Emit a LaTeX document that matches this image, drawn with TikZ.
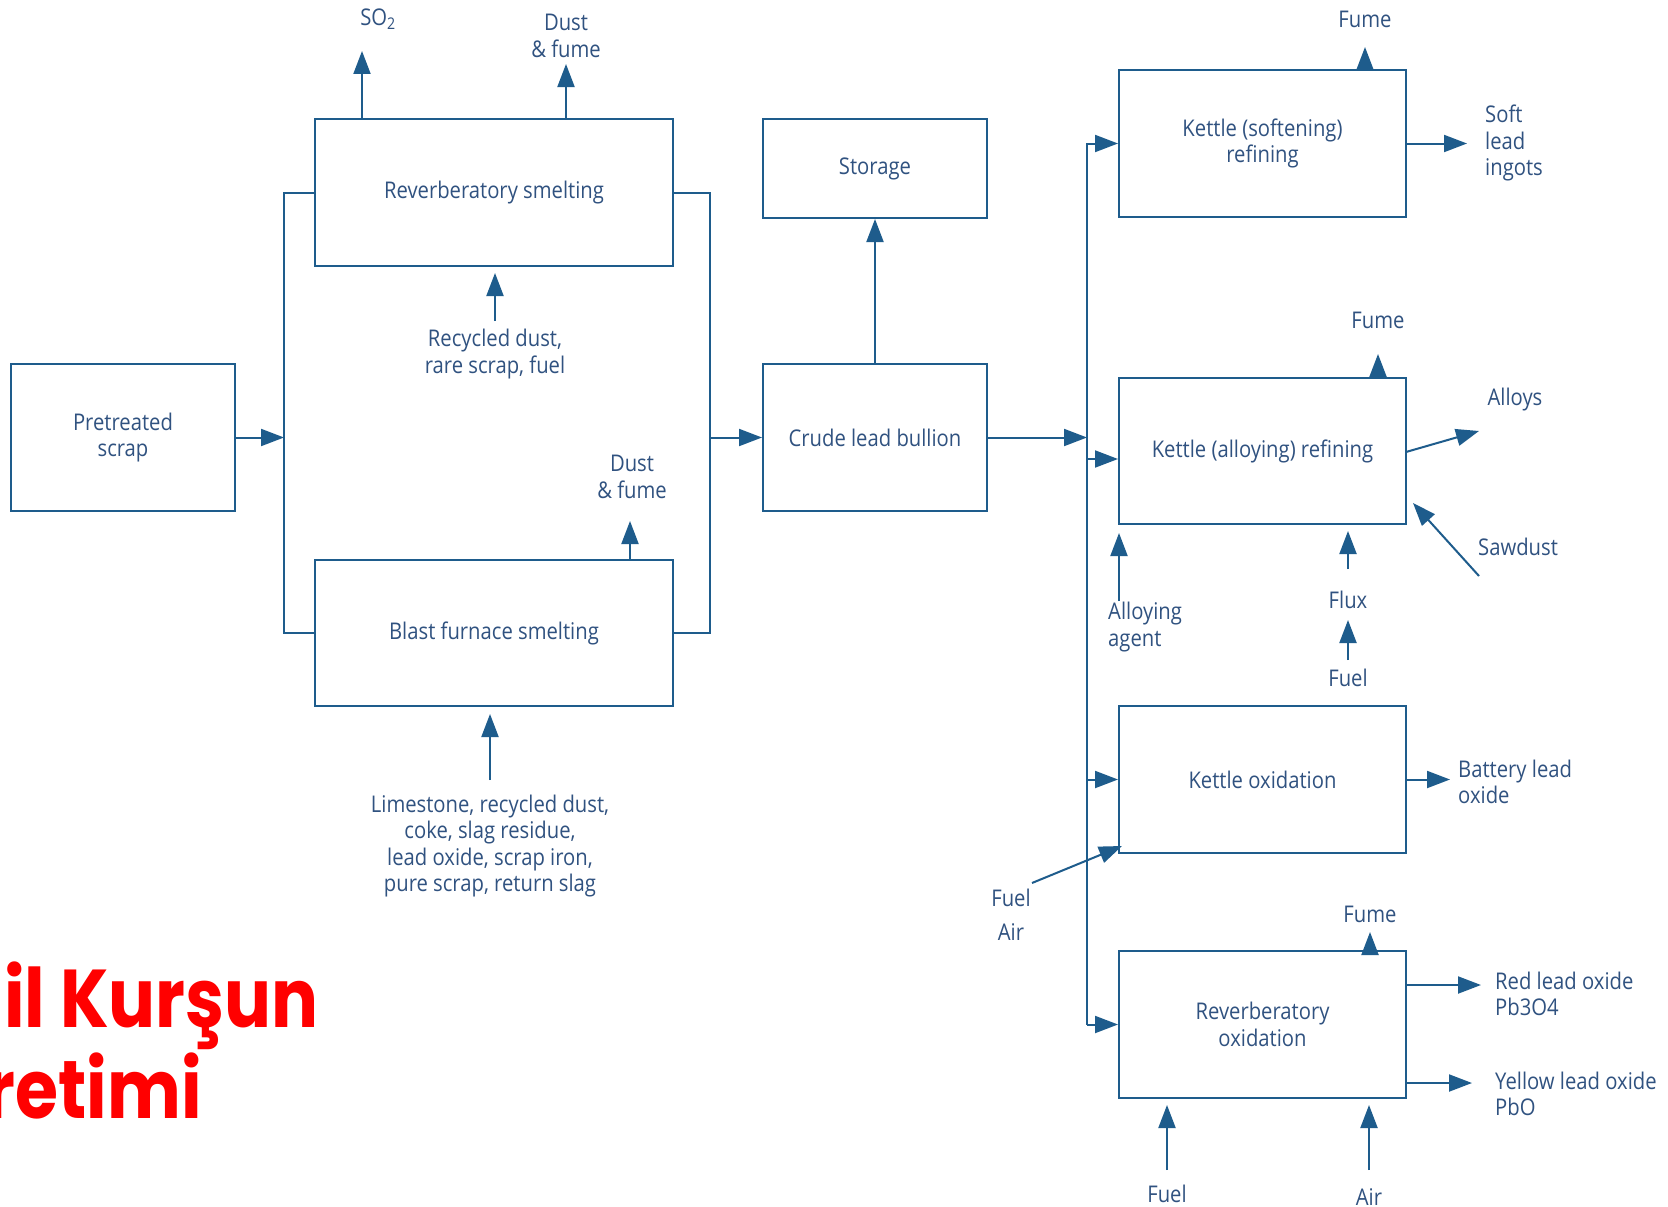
\documentclass[tikz,border=0pt]{standalone}
\usepackage{fontspec}
\usetikzlibrary{arrows.meta}
\newfontfamily\diag{Open Sans}[FakeStretch=0.88]
\newfontfamily\redfont{Poppins}[BoldFont=* Bold,FakeStretch=0.85]
\definecolor{ln}{RGB}{30,92,140}
\definecolor{tx}{RGB}{48,82,128}
\definecolor{rd}{RGB}{255,0,0}
\begin{document}
\begin{tikzpicture}[x=1pt,y=-1pt,
  box/.style={draw=ln,line width=2pt,inner sep=0pt,text=tx,align=center,font=\diag\fontsize{23}{26.6}\selectfont},
  lbl/.style={text=tx,inner sep=0pt,align=center,font=\diag\fontsize{23}{26.6}\selectfont},
  lbll/.style={lbl,align=left},
  arr/.style={draw=ln,line width=2pt,-{Triangle[length=23pt,width=17pt]}},
  ln/.style={draw=ln,line width=2pt}]
\clip (0,0) rectangle (1668,1207);
\fill[white] (0,0) rectangle (1668,1207);
% boxes
\node[box,minimum width=224pt,minimum height=147pt] (pre) at (123,437.5) {Pretreated\\scrap};
\node[box,minimum width=358pt,minimum height=147pt] (rs) at (494,192.5) {Reverberatory smelting};
\node[box,minimum width=358pt,minimum height=146pt] (bf) at (494,633) {Blast furnace smelting};
\node[box,minimum width=224pt,minimum height=99pt] (st) at (875,168.5) {Storage};
\node[box,minimum width=224pt,minimum height=147pt] (cl) at (875,437.5) {Crude lead bullion};
\node[box,minimum width=287pt,minimum height=147pt] (ks) at (1262.5,143.5) {Kettle (softening)\\refining};
\node[box,minimum width=287pt,minimum height=146pt] (ka) at (1262.5,451) {Kettle (alloying) refining};
\node[box,minimum width=287pt,minimum height=147pt] (ko) at (1262.5,779.5) {Kettle oxidation};
\node[box,minimum width=287pt,minimum height=147pt] (ro) at (1262.5,1024.5) {Reverberatory\\oxidation};
% labels
\node[lbl] (so2) at (378,19) {SO\textsubscript{2}};
\node[lbl] (df1) at (566,36) {Dust\\\& fume};
\node[lbl] (rec) at (495,354) {Recycled dust,\\rare scrap, fuel};
\node[lbl] (df2) at (632,477) {Dust\\\& fume};
\node[lbl] (lim) at (490,846) {Limestone, recycled dust,\\coke, slag residue,\\lead oxide, scrap iron,\\pure scrap, return slag};
\node[lbl] (fu1) at (1365,19) {Fume};
\node[lbll,anchor=west] (sli) at (1485,143) {Soft\\lead\\ingots};
\node[lbl] (fu2) at (1378,320) {Fume};
\node[lbl] (all) at (1515,400) {Alloys};
\node[lbl] (saw) at (1518,547) {Sawdust};
\node[lbll,anchor=west] (aga) at (1108,627) {Alloying\\agent};
\node[lbl] (flx) at (1348,600) {Flux};
\node[lbl] (fl1) at (1348,678) {Fuel};
\node[lbll,anchor=west] (bat) at (1458,782) {Battery lead\\oxide};
\node[lbl] (fl2) at (1011,898) {Fuel};
\node[lbl] (air1) at (1011,932) {Air};
\node[lbl] (fu3) at (1370,914) {Fume};
\node[lbll,anchor=west] (red) at (1495,994) {Red lead oxide\\Pb3O4};
\node[lbll,anchor=west] (yel) at (1495,1094) {Yellow lead oxide\\PbO};
\node[lbl] (fl3) at (1167,1194) {Fuel};
\node[lbl] (air2) at (1369,1197) {Air};
% coordinates
\coordinate (lb) at (284,437.5);
\coordinate (rb) at (710,437.5);
\coordinate (bb) at (1087,437.5);
\coordinate (so2a) at (362,51);
\coordinate (df1a) at (566,64);
\coordinate (df2a) at (630,521);
\coordinate (reca) at (495,321);
\coordinate (lima) at (490,780);
\coordinate (fu1a) at (1365,47);
\coordinate (fu2a) at (1378,354);
\coordinate (fu3a) at (1370,932);
\coordinate (alla) at (1479,431);
\coordinate (sawa) at (1479,576);
\coordinate (sawb) at (1413,503);
\coordinate (agaa) at (1119,601);
\coordinate (flxa) at (1348,569);
\coordinate (fl1a) at (1348,660);
\coordinate (fl1b) at (1348,620);
\coordinate (fl2a) at (1032,883);
\coordinate (fl2b) at (1122,846);
\coordinate (fl3a) at (1167,1170);
\coordinate (air2a) at (1369,1170);
% left bus
\draw[ln] (rs.west) -- (rs.west -| lb) -- (bf.west -| lb) -- (bf.west);
\draw[arr] (pre.east) -- (lb);
% right bus
\draw[ln] (rs.east) -- (rs.east -| rb) -- (bf.east -| rb) -- (bf.east);
\draw[arr] (rb) -- (cl.west);
\draw[arr] (cl.north) -- (st.south);
\draw[arr] (cl.east) -- (bb);
% refining bus
\draw[arr] (ro.west -| bb) -- (ks.west -| bb) -- (ks.west);
\draw[arr] (ro.west -| bb) -- (ro.west);
\draw[arr] (1087,459) -- (ka.west |- 0,459);
\draw[arr] (ko.west -| bb) -- (ko.west);
% outputs top
\draw[arr] (rs.north -| so2a) -- (so2a);
\draw[arr] (rs.north -| df1a) -- (df1a);
\draw[arr] (reca) -- ([yshift=-6pt]rs.south -| reca);
\draw[arr] (bf.north -| df2a) -- (df2a);
\draw[arr] (lima) -- ([yshift=-7pt]bf.south -| lima);
% refining
\draw[arr] (ks.north -| fu1a) -- (fu1a);
\draw[arr] (ks.east) -- ++(60,0);
\draw[arr] (ka.north -| fu2a) -- (fu2a);
\draw[arr] (1406,452) -- (alla);
\draw[arr] (sawa) -- (sawb);
\draw[arr] (agaa) -- ([yshift=-8pt]ka.south -| agaa);
\draw[arr] (flxa) -- ([yshift=-6pt]ka.south -| flxa);
\draw[arr] (fl1a) -- (fl1b);
\draw[arr] (ko.east) -- ++(43,0);
\draw[arr] (fl2a) -- (fl2b);
\draw[arr] (ro.north -| fu3a) -- (fu3a);
\draw[arr] (1406,985) -- (1481,985);
\draw[arr] (1406,1083) -- (1472,1083);
\draw[arr] (fl3a) -- ([yshift=-6pt]ro.south -| fl3a);
\draw[arr] (air2a) -- ([yshift=-6pt]ro.south -| air2a);
% red title
\node[anchor=base west,inner sep=0pt,text=rd,font=\redfont\bfseries\fontsize{82}{82}\selectfont] (t1) at (4,1027) {il Kurşun};
\node[anchor=base east,inner sep=0pt,text=rd,font=\redfont\bfseries\fontsize{82}{82}\selectfont] (t2) at (202,1118) {retimi};
\end{tikzpicture}
\end{document}
